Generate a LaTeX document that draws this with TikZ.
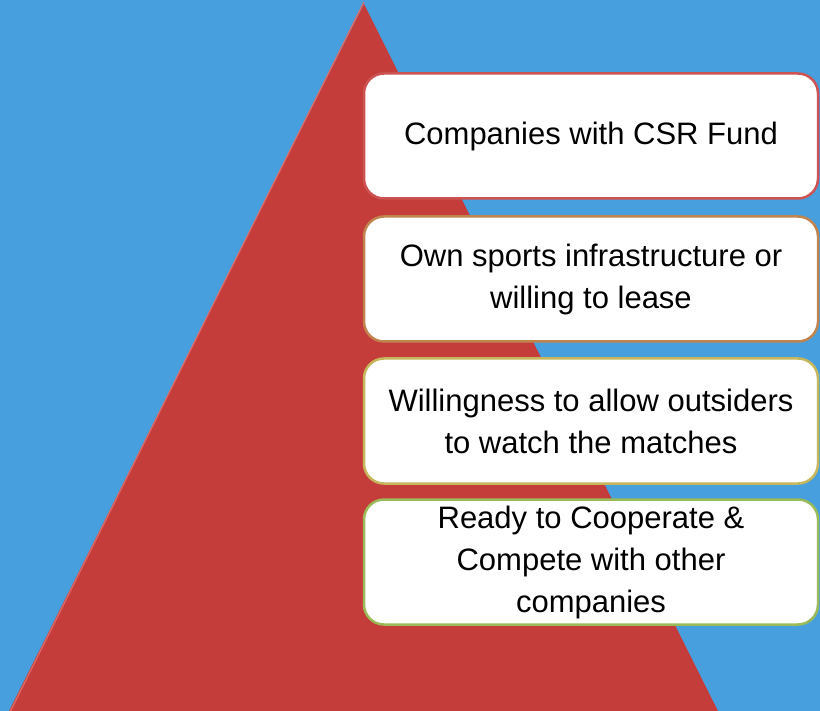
\documentclass[tikz,border=0pt]{standalone}
\usepackage{fontspec}
\setmainfont{Liberation Sans}
\definecolor{skyblue}{HTML}{479FDE}
\definecolor{pyrred}{HTML}{C53D3B}
\definecolor{pyrlight}{HTML}{E06A66}
\definecolor{edgeone}{HTML}{CC5352}
\definecolor{edgetwo}{HTML}{C2844F}
\definecolor{edgethree}{HTML}{C6B65C}
\definecolor{edgefour}{HTML}{9BBB59}
\tikzset{
  level/.style={draw=#1, fill=white, line width=2.5pt, rounded corners=20pt,
    minimum width=454pt, minimum height=125pt, align=center,
    font=\fontsize{31}{42}\selectfont}
}

\begin{document}
\begin{tikzpicture}[x=1pt,y=-1pt]
\useasboundingbox (0,0) rectangle (820,711);
\fill [skyblue] (0,0) rectangle (820,711);
\coordinate (apex) at (364,4);
\coordinate (baseL) at (9,711);
\coordinate (baseR) at (718,711);
\fill [pyrred] (apex) -- (baseR) -- (baseL) -- cycle;
\draw [pyrlight, line width=1.2pt] ([xshift=1.5pt]baseL) -- ([yshift=2pt]apex);

\node (L1) at (591,136) [level=edgeone] {Companies with CSR Fund};
\node (L2) at (591,279) [level=edgetwo] {Own sports infrastructure or\\willing to lease};
\node (L3) at (591,421) [level=edgethree] {Willingness to allow outsiders\\to watch the matches};
\node (L4) at (591,562) [level=edgefour] {Ready to Cooperate \&\\Compete with other\\companies};
\end{tikzpicture}
\end{document}
